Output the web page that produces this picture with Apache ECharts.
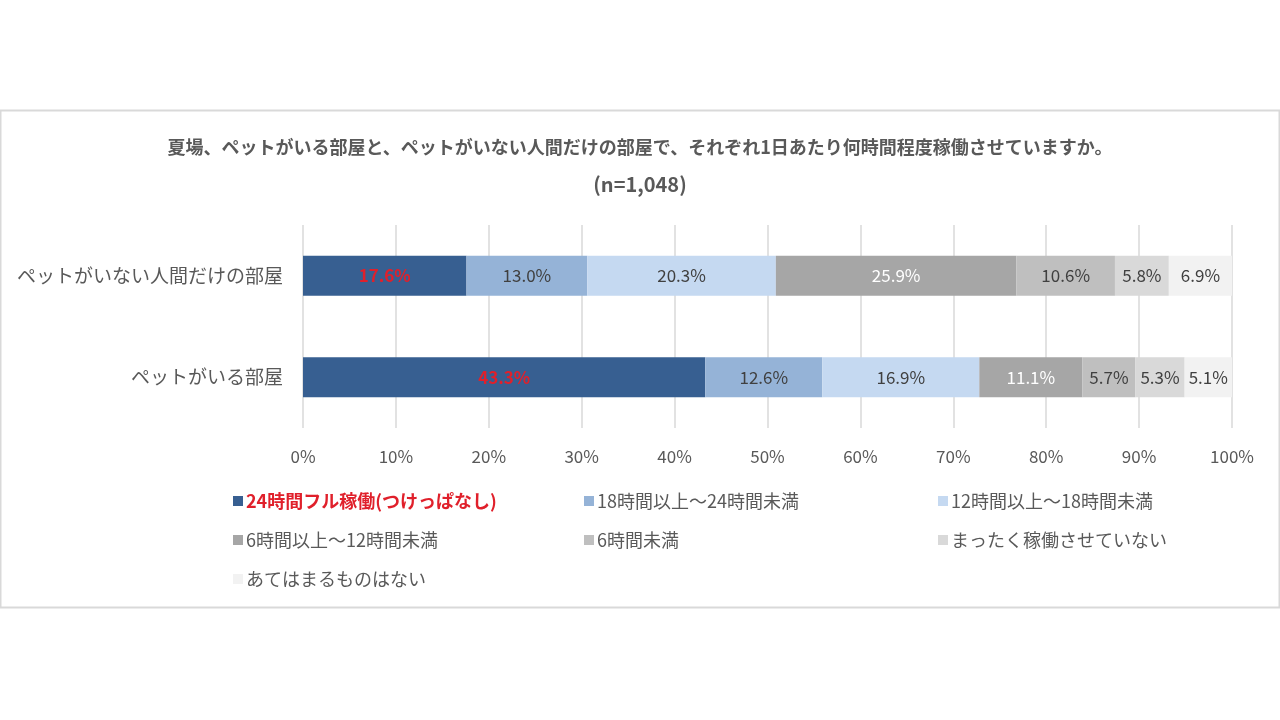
<!DOCTYPE html>
<html>
<head>
<meta charset="utf-8">
<title>夏場のエアコン稼働時間</title>
<script src="https://cdn.jsdelivr.net/npm/echarts@6/dist/echarts.min.js"></script>
<style>
    html, body { margin: 0; padding: 0; background: #fff; }
    #echarts { width: 1280px; height: 720px; }
</style>
</head>
<body>
<div id="echarts"></div>
<script>
// カテゴリ(上から順)
var Rooms = ['ペットがいない人間だけの部屋', 'ペットがいる部屋'];
// 系列名
var SeriesNames = [
    '24時間フル稼働(つけっぱなし)',
    '18時間以上～24時間未満',
    '12時間以上～18時間未満',
    '6時間以上～12時間未満',
    '6時間未満',
    'まったく稼働させていない',
    'あてはまるものはない'
];
// 各系列の値 [人間だけの部屋, ペットがいる部屋]
var FullData   = [17.6, 43.3];
var H18Data    = [13.0, 12.6];
var H12Data    = [20.3, 16.9];
var H6Data     = [25.9, 11.1];
var Under6Data = [10.6, 5.7];
var NoneData   = [5.8, 5.3];
var OtherData  = [6.9, 5.1];
// x軸目盛
var XTicks = [0, 10, 20, 30, 40, 50, 60, 70, 80, 90, 100];

var FONT = '"Noto Sans CJK JP", "Noto Sans", sans-serif';
var COLORS = ['#375F91', '#95B3D7', '#C5D9F1', '#A6A6A6', '#BFBFBF', '#D9D9D9', '#F2F2F2'];
var LABEL_COLORS = ['#E0202B', '#404040', '#404040', '#FFFFFF', '#404040', '#404040', '#404040'];

var myChart;
window.onload = function() {
    myChart = echarts.init(document.getElementById('echarts'));
    myChart.setOption(getOptions());
};

function makeSeries(idx, values) {
    return {
        name: SeriesNames[idx],
        type: 'bar',
        stack: 'total',
        barWidth: 40,
        itemStyle: { color: COLORS[idx] },
        label: {
            show: true,
            position: 'inside',
            fontFamily: FONT,
            fontSize: 17,
            fontWeight: idx === 0 ? 'bold' : 'normal',
            color: LABEL_COLORS[idx],
            formatter: function(p) { return p.value.toFixed(1) + '%'; }
        },
        data: values
    };
}

function legendItem(idx) {
    if (idx === 0) {
        return { name: SeriesNames[0], textStyle: { color: '#E0202B', fontWeight: 'bold' } };
    }
    return { name: SeriesNames[idx] };
}

function makeLegend(left, items) {
    return {
        orient: 'vertical',
        left: left,
        top: 487,
        itemWidth: 10,
        itemHeight: 10,
        itemGap: 21,
        icon: 'rect',
        textStyle: { fontFamily: FONT, fontSize: 18, color: '#595959', padding: [0, 0, 0, -2] },
        data: items.map(legendItem)
    };
}

function getOptions() {
    return {
        backgroundColor: '#fff',
        animation: false,
        textStyle: { fontFamily: FONT },
        title: [{
            text: '夏場、ペットがいる部屋と、ペットがいない人間だけの部屋で、それぞれ1日あたり何時間程度稼働させていますか。',
            left: 'center',
            top: 133,
            textStyle: { fontFamily: FONT, fontSize: 18, fontWeight: 'bold', color: '#595959' }
        }, {
            text: '(n=1,048)',
            left: 'center',
            top: 169,
            textStyle: { fontFamily: FONT, fontSize: 20, fontWeight: 'bold', color: '#595959' }
        }],
        graphic: [{
            type: 'rect',
            shape: { x: 0.5, y: 110.5, width: 1279, height: 497 },
            style: { fill: 'none', stroke: '#D9D9D9', lineWidth: 2 },
            z: -1
        }],
        legend: [
            makeLegend(228, [0, 3, 6]),
            makeLegend(579, [1, 4]),
            makeLegend(933, [2, 5])
        ],
        grid: { left: 303, right: 48, top: 225, bottom: 292 },
        xAxis: {
            type: 'value',
            min: XTicks[0],
            max: XTicks[XTicks.length - 1],
            interval: 10,
            axisLine: { show: false },
            axisTick: { show: false },
            axisLabel: {
                margin: 20,
                fontFamily: FONT,
                fontSize: 17,
                color: '#595959',
                formatter: '{value}%'
            },
            splitLine: { show: true, lineStyle: { color: '#D9D9D9', width: 1.5 } }
        },
        yAxis: {
            type: 'category',
            inverse: true,
            data: Rooms,
            axisLine: { show: false },
            axisTick: { show: false },
            axisLabel: {
                margin: 20,
                fontFamily: FONT,
                fontSize: 19,
                color: '#595959'
            }
        },
        series: [
            makeSeries(0, FullData),
            makeSeries(1, H18Data),
            makeSeries(2, H12Data),
            makeSeries(3, H6Data),
            makeSeries(4, Under6Data),
            makeSeries(5, NoneData),
            makeSeries(6, OtherData)
        ]
    };
}
</script>
</body>
</html>
